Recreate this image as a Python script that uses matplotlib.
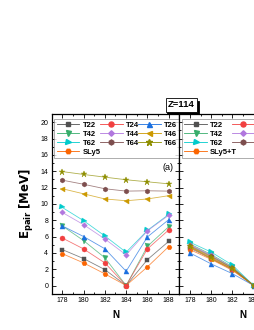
import numpy as np
import matplotlib
matplotlib.use("Agg")
import matplotlib.pyplot as plt
from matplotlib.ticker import MultipleLocator

plt.rcParams['font.family'] = ['Liberation Sans', 'DejaVu Sans']

# neutron numbers
N_left = [178, 180, 182, 184, 186, 188]
N_right = [178, 180, 182, 184]

labels = ["T22", "T42", "T62", "SLy5", "T24", "T44", "T64", "T26", "T46", "T66"]
labels_r = ["T22", "T42", "T62", "SLy5+T", "T24", "T44", "T64", "T26", "T46", "T66"]

# pairing energies, Z=114, panel (a)
T22 = [4.4, 3.3, 1.95, 0.0, 3.17, 5.4]
T42 = [7.3, 5.5, 3.4, 0.0, 4.8, 7.2]
T62 = [9.56, 7.94, 6.07, 4.07, 6.75, 8.7]
SLy5 = [3.9, 2.77, 1.43, 0.0, 2.28, 4.76]
T24 = [5.82, 4.48, 2.77, 0.0, 4.48, 6.8]
T44 = [8.95, 7.45, 5.7, 3.75, 6.7, 8.6]
T64 = [12.9, 12.4, 11.85, 11.56, 11.6, 11.56]
T26 = [7.3, 6.0, 4.5, 1.75, 5.95, 8.06]
T46 = [11.85, 11.23, 10.6, 10.38, 10.6, 11.0]
T66 = [13.95, 13.6, 13.27, 12.95, 12.7, 12.45]

# right panel (with tensor)
T22_r = [4.6, 3.3, 1.95, 0.0]
T42_r = [5.1, 3.8, 2.3, 0.0]
T62_r = [5.3, 4.1, 2.5, 0.0]
SLy5_r = [4.4, 3.2, 1.85, 0.0]
T24_r = [4.7, 3.4, 2.0, 0.0]
T44_r = [5.0, 3.7, 2.2, 0.0]
T64_r = [4.9, 3.6, 2.15, 0.0]
T26_r = [4.0, 2.65, 1.45, 0.0]
T46_r = [4.75, 3.3, 2.0, 0.0]
T66_r = [4.8, 3.5, 2.1, 0.0]

left_data = [T22, T42, T62, SLy5, T24, T44, T64, T26, T46, T66]
right_data = [T22_r, T42_r, T62_r, SLy5_r, T24_r, T44_r, T64_r, T26_r, T46_r, T66_r]

colors = ["#515151", "#37AD6B", "#00CBCC", "#FB6501", "#F14040",
          "#B177DE", "#7D4E4E", "#1A6FDF", "#CC9900", "#8E8E00"]
markers = ["s", "v", ">", "H", "o", "D", "h", "^", "<", "*"]
msizes = [3.2, 3.6, 3.6, 3.6, 3.6, 2.8, 3.6, 3.6, 3.6, 4.6]

fig = plt.figure(figsize=(2.55, 3.3), dpi=100)
ax1 = fig.add_axes([0.2027, 0.110, 0.5004, 0.5445])
ax2 = fig.add_axes([0.703, 0.110, 0.5004, 0.5445])

def draw(ax, xs, data, labs):
    for y, c, m, ms, lab in zip(data, colors, markers, msizes, labs):
        ax.plot(xs, y, color=c, lw=0.6, alpha=0.7)
        ax.plot(xs, y, ls="none", marker=m, ms=ms, color=c, mec=c, mew=0.3)
        ax.plot([], [], color=c, lw=0.6, marker=m, ms=ms, label=lab)
    ax.set_xlim(177, 189)
    ax.set_ylim(-1, 21)
    ax.xaxis.set_major_locator(MultipleLocator(2))
    ax.xaxis.set_minor_locator(MultipleLocator(1))
    ax.yaxis.set_major_locator(MultipleLocator(2))
    ax.yaxis.set_minor_locator(MultipleLocator(1))
    ax.tick_params(which="both", direction="in", top=True, right=True,
                   labelsize=5, pad=2.5, width=0.6)
    ax.tick_params(which="major", length=3)
    ax.tick_params(which="minor", length=1.5)
    for s in ax.spines.values():
        s.set_linewidth(0.9)
    ax.set_xlabel("N", fontsize=7, fontweight="bold", labelpad=4)
    leg = ax.legend(loc="upper left", bbox_to_anchor=(0.02, 0.972, 0.98, 0.0),
                    mode="expand", ncol=3, fontsize=5.5, frameon=True,
                    fancybox=False, handlelength=3.0, handletextpad=0.4,
                    borderpad=0.3, labelspacing=0.22, columnspacing=0.6,
                    borderaxespad=0.0)
    leg.get_frame().set_edgecolor("#888888")
    leg.get_frame().set_linewidth(0.6)
    for t in leg.get_texts():
        t.set_fontweight("bold")

draw(ax1, N_left, left_data, labels)
draw(ax2, N_right, right_data, labels_r)
ax2.tick_params(labelleft=False)

ax1.set_ylabel(r"$\mathbf{E_{pair}}$ $\mathbf{[MeV]}$", fontsize=8.5)
ax1.yaxis.set_label_coords(-0.12, 0.5)
ax1.text(0.91, 0.705, "(a)", transform=ax1.transAxes, fontsize=6.5,
         ha="center", va="center")

# Z label box with shadow
fig.text(0.7109 + 0.006, 0.682 - 0.008, "Z=114", fontsize=6.8, fontweight="bold",
         ha="center", va="center", color="black",
         bbox=dict(boxstyle="square,pad=0.25", fc="black", ec="black", lw=0.6))
fig.text(0.7109, 0.682, "Z=114", fontsize=6.8, fontweight="bold",
         ha="center", va="center",
         bbox=dict(boxstyle="square,pad=0.25", fc="white", ec="black", lw=0.6))

fig.savefig("out.png", dpi=100)
